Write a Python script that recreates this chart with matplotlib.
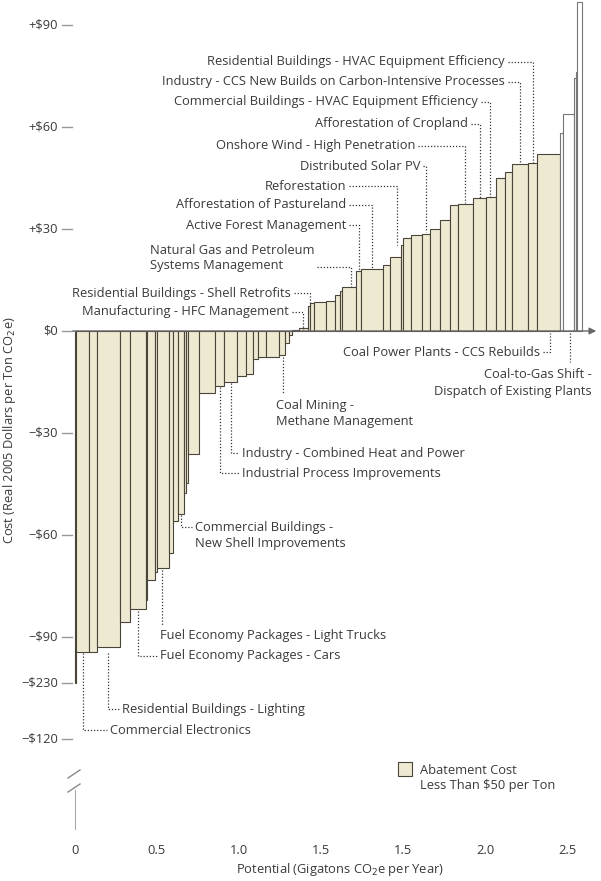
import matplotlib.pyplot as plt
import numpy as np

# potential of each measure (Gt CO2e/yr) and its cost ($/t)
widths = [0.004, 0.081, 0.051, 0.138, 0.059, 0.098, 0.010, 0.045, 0.016, 0.070,
          0.028, 0.030, 0.035, 0.010, 0.012, 0.071, 0.098, 0.055, 0.077, 0.057,
          0.039, 0.034, 0.047, 0.081, 0.035, 0.026, 0.015, 0.046, 0.055, 0.010,
          0.024, 0.071, 0.057, 0.030, 0.016, 0.085, 0.030, 0.132, 0.041, 0.067,
          0.014, 0.051, 0.065, 0.047, 0.061, 0.061, 0.051, 0.088, 0.085, 0.057,
          0.055, 0.045, 0.098, 0.055, 0.138, 0.020, 0.065, 0.010, 0.012, 0.028]
costs = [-230, -94.3, -94.3, -93, -85.5, -81.9, -79, -73.2, -70.8, -69.8,
         -65.4, -56, -53.9, -47.7, -44.8, -36.3, -18.3, -16.1, -15, -13.2,
         -12.5, -8.3, -7.5, -7.5, -7, -3.6, -1.2, 0.3, 0.8, 7.4,
         8.1, 8.5, 8.8, 10.6, 11.8, 13, 17.7, 18.3, 19.4, 21.9,
         25.3, 27.3, 28.2, 28.5, 29.9, 32.6, 37, 37.5, 39, 39.3,
         44.9, 46.9, 49.1, 49.4, 52, 58.1, 63.7, 74.5, 76.2, 96.9]
n_beige = 55

xtick_vals = [0, 0.5, 1.0, 1.5, 2.0, 2.5, 3.0]
xtick_labels = ['0', '0.5', '1.0', '1.5', '1.5', '2.0', '2.5']
ytick_vals = [90, 60, 30, 0, -30, -60, -90, -120, -230]
ytick_labels = ['+$90', '+$60', '+$30', '$0', '\u2212$30', '\u2212$60', '\u2212$90', '\u2212$120', '\u2212$230']

plt.rcParams['font.family'] = ['Open Sans', 'DejaVu Sans']
FS = 9.3
TXT = '#3a3a3a'

def X(px):
    return (px - 75) / 164.0

def Y(py):
    return (331 - py) / 3.4

BREAK = Y(770)

def pos(v):
    # broken y axis: below -125 squeeze the scale
    if v >= -125:
        return v
    return -125 + (v + 125) * (Y(829) + 125) / 105.0

fig = plt.figure(figsize=(6.01, 8.81), dpi=100)
ax = fig.add_axes([0, 0, 1, 1])
ax.set_xlim(X(0), X(601))
ax.set_ylim(Y(881), Y(0))
ax.axis('off')

lefts = np.concatenate([[0], np.cumsum(widths)[:-1]])
for i, (l, w, c) in enumerate(zip(lefts, widths, costs)):
    h = max(pos(c), BREAK) if c < 0 else c
    if i < n_beige:
        ax.bar(l, h, width=w, align='edge', color='#eeead2', edgecolor='#4a4538', linewidth=0.8)
    else:
        ax.bar(l, h, width=w, align='edge', color='white', edgecolor='#777777', linewidth=0.8)

# x axis with arrow
ax.annotate('', xy=(X(599), 0), xytext=(X(70), 0),
            arrowprops=dict(arrowstyle='-|>', color='#666666', lw=1.0, mutation_scale=10))
for v, lab in zip(xtick_vals, xtick_labels):
    ax.text(v, Y(851), lab, ha='center', va='center', fontsize=FS, color=TXT)
ax.text(X(340), Y(870), 'Potential (Gigatons CO$_2$e per Year)', ha='center', va='center', fontsize=FS, color=TXT)

for v, lab in zip(ytick_vals, ytick_labels):
    ax.plot([X(62), X(72)], [pos(v), pos(v)], color='#999999', lw=1)
    ax.text(X(58), pos(v), lab, ha='right', va='center', fontsize=FS, color=TXT)
ax.text(X(10), Y(430), 'Cost (Real 2005 Dollars per Ton CO$_2$e)', rotation=90,
        ha='center', va='center', fontsize=FS, color=TXT)
# axis break
ax.plot([X(68), X(80)], [Y(778), Y(770)], color='#888888', lw=1)
ax.plot([X(68), X(80)], [Y(792), Y(784)], color='#888888', lw=1)
ax.plot([X(75), X(75)], [Y(790), Y(829)], color='#aaaaaa', lw=0.8)

dot = dict(color='#333333', lw=0.9, ls=(0, (1, 1.5)))

def lead(pts):
    ax.plot([X(p[0]) for p in pts], [Y(p[1]) for p in pts], **dot)

# labels below the curve: (text, text x, text y, path)
below = [
    ('Commercial Electronics', 110, 730, [(83, 653), (83, 730), (107, 730)]),
    ('Residential Buildings - Lighting', 122, 709, [(108, 653), (108, 709), (119, 709)]),
    ('Fuel Economy Packages - Cars', 160, 656, [(138, 611), (138, 656), (157, 656)]),
    ('Fuel Economy Packages - Light Trucks', 160, 636, [(162, 570), (162, 626)]),
    ('Commercial Buildings -\nNew Shell Improvements', 195, 536, [(181, 515), (181, 527), (192, 527)]),
    ('Industrial Process Improvements', 242, 473, [(220, 387), (220, 473), (239, 473)]),
    ('Industry - Combined Heat and Power', 242, 453, [(231, 383), (231, 453), (239, 453)]),
    ('Coal Mining -\nMethane Management', 276, 414, [(283, 357), (283, 393)]),
]
for t, tx, ty, path in below:
    ax.text(X(tx), Y(ty), t, ha='left', va='center', fontsize=FS, color=TXT, linespacing=1.3)
    lead(path)

# labels above the curve: right-aligned text, leader goes right then down
above = [
    ('Manufacturing - HFC Management', 289, 312, 303, 330),
    ('Residential Buildings - Shell Retrofits', 291, 293, 310, 306),
    ('Natural Gas and Petroleum\nSystems Management', 314, 258, 351, 287),
    ('Active Forest Management', 346, 225, 359, 270),
    ('Afforestation of Pastureland', 346, 205, 372, 269),
    ('Reforestation', 346, 186, 397, 245),
    ('Distributed Solar PV', 420, 166, 426, 232),
    ('Onshore Wind - High Penetration', 415, 146, 465, 203),
    ('Afforestation of Cropland', 468, 124, 480, 198),
    ('Commercial Buildings - HVAC Equipment Efficiency', 478, 102, 490, 197),
    ('Industry - CCS New Builds on Carbon-Intensive Processes', 505, 82, 520, 164),
    ('Residential Buildings - HVAC Equipment Efficiency', 505, 62, 533, 163),
]
for t, tx, ty, vx, vy in above:
    ax.text(X(tx), Y(ty), t, ha='right', va='center', fontsize=FS, color=TXT,
            linespacing=1.3, multialignment='left')
    ly = ty + 9 if '\n' in t else ty
    lead([(tx + 3, ly), (vx, ly), (vx, vy)])

ax.text(X(540), Y(352), 'Coal Power Plants - CCS Rebuilds', ha='right', va='center', fontsize=FS, color=TXT)
lead([(543, 352), (550, 352), (550, 333)])
ax.text(X(592), Y(383), 'Coal-to-Gas Shift -\nDispatch of Existing Plants', ha='right', va='center',
        fontsize=FS, color=TXT, linespacing=1.3, multialignment='right')
lead([(570, 333), (570, 362)])

# legend
ax.bar(X(398), Y(776) - Y(762), width=X(412) - X(398), bottom=Y(762), align='edge',
       color='#eeead2', edgecolor='#4a4538', linewidth=0.8)
ax.text(X(420), Y(778), 'Abatement Cost\nLess Than $50 per Ton', ha='left', va='center',
        fontsize=FS, color=TXT, linespacing=1.3)

fig.savefig('out.png', dpi=100)
